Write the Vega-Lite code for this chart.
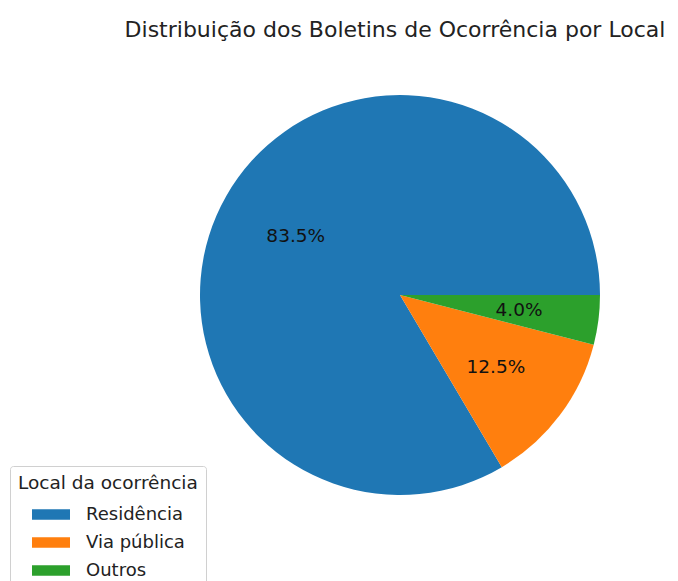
{
  "$schema": "https://vega.github.io/schema/vega-lite/v6.json",
  "width": 400,
  "height": 400,
  "autosize": {"type": "none"},
  "padding": {"left": 200, "top": 95, "right": 78, "bottom": 86},
  "background": "white",
  "title": {
    "text": "Distribuição dos Boletins de Ocorrência por Local",
    "font": "DejaVu Sans",
    "fontSize": 22,
    "fontWeight": "normal",
    "color": "#222",
    "anchor": "middle",
    "dx": -5,
    "offset": 53
  },
  "data": {
    "values": [
      {"local": "Residência", "pct": 83.5, "ord": 1, "label": "83.5%"},
      {"local": "Via pública", "pct": 12.5, "ord": 2, "label": "12.5%"},
      {"local": "Outros", "pct": 4.0, "ord": 3, "label": "4.0%"}
    ]
  },
  "encoding": {
    "theta": {"field": "pct", "type": "quantitative", "stack": true, "scale": {"range": [1.5707963, -4.712389]}},
    "order": {"field": "ord", "type": "quantitative"}
  },
  "layer": [
    {
      "mark": {"type": "arc", "outerRadius": 200, "strokeWidth": 0},
      "encoding": {
        "color": {
          "field": "local",
          "type": "nominal",
          "sort": ["Residência", "Via pública", "Outros"],
          "scale": {"domain": ["Residência", "Via pública", "Outros"], "range": ["#1f77b4", "#ff7f0e", "#2ca02c"]},
          "legend": {
            "title": "Local da ocorrência",
            "orient": "none",
            "legendX": -190,
            "legendY": 371,
            "titleFont": "DejaVu Sans",
            "titleFontSize": 18.5,
            "titleFontWeight": "normal",
            "titleColor": "#222",
            "labelFont": "DejaVu Sans",
            "labelFontSize": 18,
            "labelColor": "#222",
            "symbolType": "M-1,-0.27H1V0.27H-1Z",
            "symbolSize": 1444,
            "symbolStrokeWidth": 0,
            "symbolOpacity": 1,
            "symbolOffset": 14,
            "labelOffset": 16,
            "rowPadding": 0,
            "titlePadding": 3,
            "padding": 8,
            "strokeColor": "#d0d0d0",
            "fillColor": "white",
            "cornerRadius": 3
          }
        }
      }
    },
    {
      "mark": {"type": "text", "radius": 120, "font": "DejaVu Sans", "fontSize": 18.5, "color": "#111"},
      "encoding": {
        "text": {"field": "label", "type": "nominal"}
      }
    }
  ]
}
